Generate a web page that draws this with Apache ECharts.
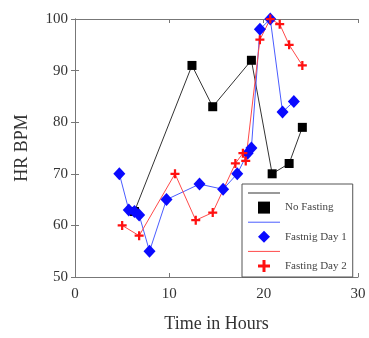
<!DOCTYPE html>
<html><head><meta charset="utf-8">
<script src="https://cdn.jsdelivr.net/npm/echarts@6/dist/echarts.min.js"></script>
<style>html,body{margin:0;padding:0;background:#fff}#c{width:369px;height:338px}</style>
</head><body><div id="c"></div>
<script>
const xTicks = [0, 10, 20, 30];
const yTicks = [50, 60, 70, 80, 90, 100];
const noFastingX = [6.3, 12.4, 14.6, 18.7, 20.9, 22.7, 24.1];
const noFastingY = [62.7, 91, 83, 92, 70, 72, 79];
const day1X = [4.7, 5.7, 6.3, 6.8, 7.9, 9.7, 13.2, 15.7, 17.2, 18.3, 18.7, 19.6, 20.7, 22.0, 23.2];
const day1Y = [70, 63, 62.7, 62, 55, 65, 68, 67, 70, 74, 75, 98, 100, 82, 84];
const day2X = [5.0, 6.8, 10.6, 12.8, 14.6, 17.0, 17.8, 18.1, 19.6, 20.7, 21.7, 22.7, 24.1];
const day2Y = [60, 58, 70, 61, 62.5, 72, 74, 72.5, 96, 100, 99, 95, 91];
const names = ['No Fasting', 'Fastnig Day 1', 'Fasting Day 2'];

const pts = (xs, ys) => xs.map((x, i) => [x, ys[i]]);
const crossPath = 'path://M3,0 L5,0 L5,3 L8,3 L8,5 L5,5 L5,8 L3,8 L3,5 L0,5 L0,3 L3,3 Z';
const diamondPath = 'path://M6.5,0 L13,6.5 L6.5,13 L0,6.5 Z';
const rectPath = 'path://M0,0 L8,0 L8,8 L0,8 Z';
const linePath = 'path://M0,0 L32,0 L32,1 L0,1 Z';
const font = '"Liberation Serif", "DejaVu Serif", serif';
const colors = ['#333333', '#4a5cff', '#ff4a4a'];
const markColors = ['#000000', '#0a0aff', '#ff1010'];

const lineS = (name, d, color) => ({
  name: name + ' line', type: 'line', data: d, showSymbol: false, symbol: 'none',
  lineStyle: { color: color, width: 1 }, itemStyle: { color: color }, z: 2, animation: false
});
const markS = (name, d, color, symbol, size, z) => ({
  name: name, type: 'scatter', data: d, symbol: symbol, symbolSize: size,
  itemStyle: { color: color, opacity: 1 }, z: z, animation: false
});

const axisCommon = {
  axisLine: { show: true, lineStyle: { color: '#777', width: 1 } },
  axisTick: { show: true, inside: true, length: 4, lineStyle: { color: '#777' } },
  splitLine: { show: false }
};

const option = {
  backgroundColor: '#fff',
  animation: false,
  grid: { left: 75, right: 11, top: 19, bottom: 60, containLabel: false },
  xAxis: [
    Object.assign({ type: 'value', min: xTicks[0], max: xTicks[xTicks.length - 1], interval: 10, position: 'bottom',
      name: 'Time in Hours', nameLocation: 'middle', nameGap: 38,
      nameTextStyle: { fontFamily: font, fontSize: 18, color: '#333' },
      axisLabel: { fontFamily: font, fontSize: 15, color: '#333', margin: 10 } }, axisCommon),
    Object.assign({ type: 'value', min: xTicks[0], max: xTicks[xTicks.length - 1], interval: 10, position: 'top',
      axisLabel: { show: false } }, axisCommon)
  ],
  yAxis: [
    Object.assign({ type: 'value', min: yTicks[0], max: yTicks[yTicks.length - 1], interval: 10, position: 'left',
      name: 'HR BPM', nameLocation: 'middle', nameGap: 44,
      nameTextStyle: { fontFamily: font, fontSize: 18, color: '#333' },
      axisLabel: { fontFamily: font, fontSize: 15, color: '#333', margin: 7 } }, axisCommon),
    Object.assign({ type: 'value', min: yTicks[0], max: yTicks[yTicks.length - 1], interval: 10, position: 'right',
      axisLabel: { show: false } }, axisCommon)
  ],
  legend: {
    orient: 'vertical', left: 242, top: 184, width: 116,
    padding: [2, 6, 4, 6], itemGap: 0.6, itemWidth: 32, itemHeight: 12,
    symbolKeepAspect: true,
    backgroundColor: '#fff', borderColor: '#555', borderWidth: 1, borderRadius: 0,
    textStyle: { fontFamily: font, fontSize: 11, color: '#444', lineHeight: 14 },
    formatter: n => n.endsWith(' line') ? '\u00a0' : n,
    data: [
      { name: names[0] + ' line', icon: linePath }, { name: names[0], icon: rectPath },
      { name: names[1] + ' line', icon: linePath }, { name: names[1], icon: diamondPath },
      { name: names[2] + ' line', icon: linePath }, { name: names[2], icon: crossPath }
    ],
    selectedMode: false
  },
  series: [
    lineS(names[0], pts(noFastingX, noFastingY), colors[0]),
    lineS(names[1], pts(day1X, day1Y), colors[1]),
    lineS(names[2], pts(day2X, day2Y), colors[2]),
    markS(names[0], pts(noFastingX, noFastingY), markColors[0], 'rect', 9, 3),
    markS(names[1], pts(day1X, day1Y), markColors[1], 'diamond', [12, 13], 4),
    markS(names[2], pts(day2X, day2Y), markColors[2], crossPath, 9, 5)
  ]
};
const chart = echarts.init(document.getElementById('c'), null, { renderer: 'canvas' });
chart.setOption(option);
</script></body></html>
